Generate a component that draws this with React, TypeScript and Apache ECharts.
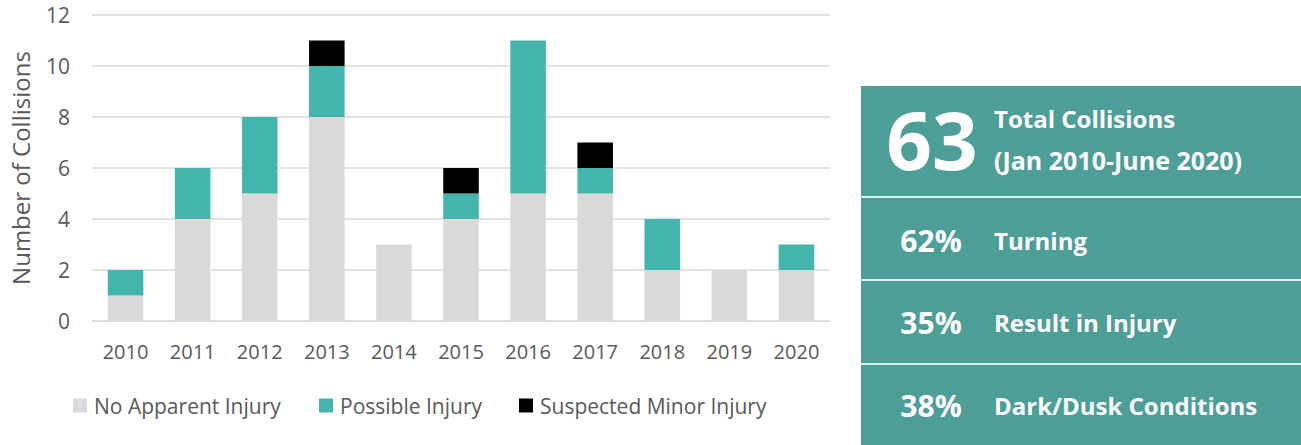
import React, { useEffect, useRef } from "react";
import * as echarts from "echarts";

const years = ["2010", "2011", "2012", "2013", "2014", "2015", "2016", "2017", "2018", "2019", "2020"];
const noApparent = [1, 4, 5, 8, 3, 4, 5, 5, 2, 2, 2];
const possible = [1, 2, 3, 2, 0, 1, 6, 1, 2, 0, 1];
const suspectedMinor = [0, 0, 0, 1, 0, 1, 0, 1, 0, 0, 0];
const seriesNames = ["No Apparent Injury", "Possible Injury", "Suspected Minor Injury"];
const seriesColors = ["#D9D9D9", "#43B5AC", "#000000"];

const totalValue = "63";
const totalLines = ["Total Collisions", "(Jan 2010-June 2020)"];
const stats = [
  { pct: "62%", label: "Turning" },
  { pct: "35%", label: "Result in Injury" },
  { pct: "38%", label: "Dark/Dusk Conditions" },
];

const AXIS_FONT = "'Open Sans', 'Noto Sans', sans-serif";
const PANEL_FONT = "'Open Sans', 'Noto Sans', sans-serif";

export default function App() {
  const ref = useRef<HTMLDivElement>(null);
  useEffect(() => {
    document.body.style.margin = "0";
    const chart = echarts.init(ref.current!, null, { renderer: "svg" });
    const data = [noApparent, possible, suspectedMinor];
    const legendLefts = [73, 319, 519];
    const panelX = 861;
    const panelTop = 86;
    const sepYs = [197, 280, 364];
    const statYs = [240, 322, 405];

    const graphic: any[] = [
      { type: "rect", shape: { x: panelX, y: panelTop, width: 1301 - panelX, height: 445 - panelTop }, style: { fill: "#4D9E97" } },
      ...sepYs.map((y) => ({ type: "rect", shape: { x: panelX, y: y - 1, width: 1301 - panelX, height: 2 }, style: { fill: "#DDEEEC" } })),
      { type: "text", x: 932, y: 138, style: { text: totalValue, fill: "#fff", font: `bold 80px ${PANEL_FONT}`, align: "center", verticalAlign: "middle" } },
      { type: "text", x: 994, y: 118, style: { text: totalLines[0], fill: "#fff", font: `bold 24px ${PANEL_FONT}`, align: "left", verticalAlign: "middle" } },
      { type: "text", x: 994, y: 160, style: { text: totalLines[1], fill: "#fff", font: `bold 25px ${PANEL_FONT}`, align: "left", verticalAlign: "middle" } },
      ...stats.flatMap((s, i) => [
        { type: "text", x: 931, y: statYs[i], style: { text: s.pct, fill: "#fff", font: `bold 30px ${PANEL_FONT}`, align: "center", verticalAlign: "middle" } },
        { type: "text", x: 994, y: statYs[i], style: { text: s.label, fill: "#fff", font: `bold 24px ${PANEL_FONT}`, align: "left", verticalAlign: "middle" } },
      ]),
    ];

    chart.setOption({
      animation: false,
      grid: { left: 89, right: 471, top: 15, bottom: 124, containLabel: false },
      legend: seriesNames.map((n, i) => ({
        data: [n],
        left: legendLefts[i],
        top: 395,
        padding: 0,
        itemWidth: 14,
        itemHeight: 14,
        icon: "rect",
        textStyle: { color: "#595959", fontSize: 21, fontFamily: AXIS_FONT, padding: [0, 0, 0, 2] },
      })),
      xAxis: {
        type: "category",
        data: years,
        axisLine: { lineStyle: { color: "#D9D9D9", width: 1 } },
        axisTick: { show: false },
        axisLabel: { color: "#595959", fontSize: 20, fontFamily: AXIS_FONT, margin: 20 },
      },
      yAxis: {
        type: "value",
        min: 0,
        max: 12,
        interval: 2,
        name: "Number of Collisions",
        nameLocation: "middle",
        nameGap: 60,
        nameTextStyle: { color: "#595959", fontSize: 24, fontFamily: AXIS_FONT },
        axisLine: { show: false },
        axisTick: { show: false },
        splitLine: { lineStyle: { color: "#D9D9D9", width: 1.5 } },
        axisLabel: { color: "#595959", fontSize: 21, fontFamily: AXIS_FONT, margin: 22 },
      },
      series: seriesNames.map((n, i) => ({
        name: n,
        type: "bar",
        stack: "total",
        barWidth: "53%",
        itemStyle: { color: seriesColors[i] },
        data: data[i],
      })),
      graphic,
    });
    return () => chart.dispose();
  }, []);
  return <div ref={ref} style={{ width: 1301, height: 445 }} />;
}
